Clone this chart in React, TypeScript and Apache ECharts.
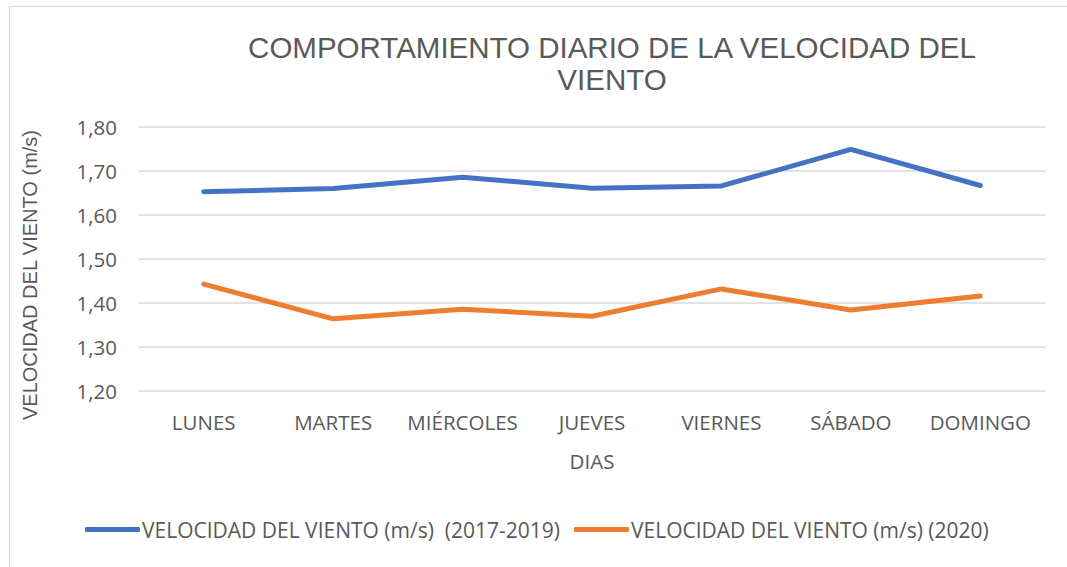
import React, { useEffect, useRef } from "react";
import * as echarts from "echarts";

const dias = ["LUNES", "MARTES", "MIÉRCOLES", "JUEVES", "VIERNES", "SÁBADO", "DOMINGO"];
const serie1719 = [1.653, 1.66, 1.686, 1.661, 1.666, 1.749, 1.667];
const serie2020 = [1.443, 1.364, 1.386, 1.37, 1.432, 1.384, 1.416];
const nombre1 = "VELOCIDAD DEL VIENTO (m/s)  (2017-2019)";
const nombre2 = "VELOCIDAD DEL VIENTO (m/s) (2020)";
const titulo = "COMPORTAMIENTO DIARIO DE LA VELOCIDAD DEL\nVIENTO";
const tituloEjeY = "VELOCIDAD DEL VIENTO (m/s)";
const tituloEjeX = "DIAS";

const FONT = "Open Sans";
const GRAY = "#595959";
const FS = 20.5;

export default function App() {
  const ref = useRef<HTMLDivElement>(null);
  useEffect(() => {
    const chart = echarts.init(ref.current!, null, { renderer: "svg" });
    chart.setOption({
      animation: false,
      backgroundColor: "#fff",
      textStyle: { fontFamily: FONT },
      title: {
        text: titulo,
        left: 607,
        top: 26,
        textAlign: "center",
        textStyle: {
          fontFamily: "Liberation Sans",
          fontWeight: "normal",
          fontSize: 29.5,
          color: GRAY,
          lineHeight: 32,
        },
      },
      graphic: [
        {
          type: "rect",
          shape: { x: 9.5, y: 6.5, width: 1200, height: 700 },
          style: { fill: "none", stroke: "#d9d9d9", lineWidth: 1 },
          silent: true,
        },
        {
          type: "text",
          x: 30,
          y: 275,
          rotation: Math.PI / 2,
          style: {
            text: tituloEjeY,
            fontFamily: "Liberation Sans",
            fontSize: 20,
            fill: GRAY,
            align: "center",
            verticalAlign: "middle",
          },
        },
      ],
      legend: {
        bottom: 22,
        left: 80,
        icon: "roundRect",
        itemWidth: 55,
        itemHeight: 5,
        itemGap: 14,
        textStyle: { fontFamily: FONT, fontSize: 21, color: GRAY, padding: [0, 0, 0, -3] },
        data: [nombre1, nombre2],
      },
      grid: { left: 139, right: 22, top: 127, bottom: 176 },
      xAxis: {
        type: "category",
        data: dias,
        boundaryGap: true,
        name: tituloEjeX,
        nameLocation: "middle",
        nameGap: 59,
        nameTextStyle: { fontFamily: FONT, fontSize: FS, color: GRAY },
        axisLine: { show: false },
        axisTick: { show: false },
        axisLabel: { fontFamily: FONT, fontSize: FS, color: GRAY, margin: 20, interval: 0 },
      },
      yAxis: {
        type: "value",
        min: 1.2,
        max: 1.8,
        interval: 0.1,
        axisLine: { show: false },
        axisTick: { show: false },
        axisLabel: {
          fontFamily: FONT,
          fontSize: FS,
          color: GRAY,
          margin: 22,
          formatter: (v: number) => v.toFixed(2).replace(".", ","),
        },
        splitLine: { lineStyle: { color: "#d9d9d9", width: 1.5 } },
      },
      series: [
        {
          name: nombre1,
          type: "line",
          data: serie1719,
          symbol: "none",
          lineStyle: { color: "#4472c4", width: 5, cap: "round", join: "round" },
          itemStyle: { color: "#4472c4" },
        },
        {
          name: nombre2,
          type: "line",
          data: serie2020,
          symbol: "none",
          lineStyle: { color: "#ed7d31", width: 5, cap: "round", join: "round" },
          itemStyle: { color: "#ed7d31" },
        },
      ],
    });
    return () => chart.dispose();
  }, []);
  return <div ref={ref} style={{ width: 1067, height: 567, position: "absolute", left: 0, top: 0 }} />;
}
